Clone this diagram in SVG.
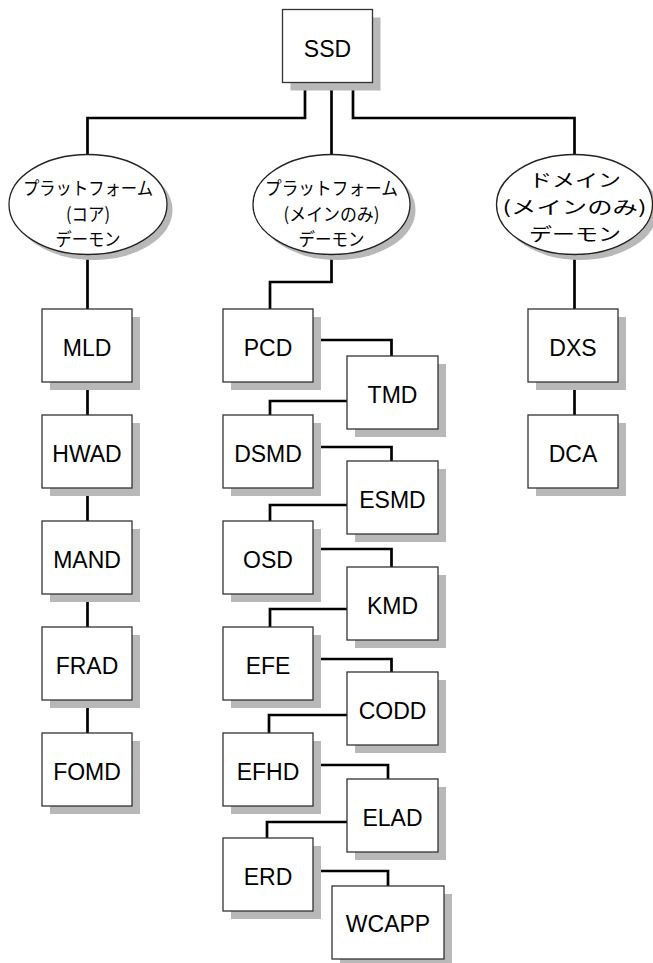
<svg xmlns="http://www.w3.org/2000/svg" width="653" height="963" viewBox="0 0 653 963">
<style>
.sh{fill:#b8b8b8;stroke:none}
.bx{fill:#fff;stroke:#333;stroke-width:1.3}
.el{fill:#fff;stroke:#222;stroke-width:1.3}
.t{font-family:"Liberation Sans",Arial,sans-serif;font-size:23px;fill:#000;text-anchor:middle}
.j{font-family:"Noto Sans CJK JP","Noto Sans CJK SC",sans-serif;font-size:18px;fill:#000;text-anchor:middle}
.c{fill:none;stroke:#000;stroke-width:2.7}
</style>
<rect width="653" height="963" fill="#fff"/>
<g id="connectors">
<path class="c" d="M305,83 V118 H87.5 V155"/>
<path class="c" d="M331.5,83 V155"/>
<path class="c" d="M353,83 V118 H574.5 V155"/>
<path class="c" d="M87.5,255 V309 M87.5,382 V415 M87.5,488 V521 M87.5,594 V627 M87.5,700 V733"/>
<path class="c" d="M331.5,255 V282 H270 V309"/>
<path class="c" d="M313,340 H391.5 V356"/>
<path class="c" d="M347,401 H270 V415"/>
<path class="c" d="M313,447 H391.5 V461"/>
<path class="c" d="M347,505 H270 V521"/>
<path class="c" d="M313,549 H391.5 V567"/>
<path class="c" d="M347,609 H270 V627"/>
<path class="c" d="M313,659 H391.5 V672"/>
<path class="c" d="M347,715 H269 V733"/>
<path class="c" d="M313,765 H388 V779"/>
<path class="c" d="M347,822 H267 V838"/>
<path class="c" d="M313,871 H388 V886"/>
<path class="c" d="M574.5,255 V309 M574.5,382 V415"/>
</g>
<g id="SSD"><rect class="sh" x="290.5" y="17.5" width="90" height="73"/><rect class="bx" x="282.5" y="9.5" width="90" height="73"/><text class="t" x="327.5" y="56.5">SSD</text></g>
<g id="core">
<ellipse class="sh" cx="93.5" cy="210" rx="79" ry="50"/>
<ellipse class="el" cx="88" cy="204.5" rx="79" ry="50"/>
<text class="j" x="88" y="195" textLength="130" lengthAdjust="spacingAndGlyphs">プラットフォーム</text>
<text class="j" x="88" y="221" textLength="44" lengthAdjust="spacingAndGlyphs">(コア)</text>
<text class="j" x="88" y="246" textLength="65" lengthAdjust="spacingAndGlyphs">デーモン</text>
</g>
<g id="mainonly">
<ellipse class="sh" cx="337" cy="210" rx="78.5" ry="50"/>
<ellipse class="el" cx="331.5" cy="204.5" rx="78.5" ry="50"/>
<text class="j" x="331.5" y="195" textLength="133" lengthAdjust="spacingAndGlyphs">プラットフォーム</text>
<text class="j" x="331.5" y="221" textLength="96" lengthAdjust="spacingAndGlyphs">(メインのみ)</text>
<text class="j" x="331.5" y="246" textLength="66" lengthAdjust="spacingAndGlyphs">デーモン</text>
</g>
<g id="domain">
<ellipse class="sh" cx="580" cy="210" rx="78" ry="50"/>
<ellipse class="el" cx="574.5" cy="204.5" rx="78" ry="50"/>
<text class="j" x="575" y="187" textLength="92" lengthAdjust="spacingAndGlyphs">ドメイン</text>
<text class="j" x="574.5" y="214" textLength="144" lengthAdjust="spacingAndGlyphs">(メインのみ)</text>
<text class="j" x="575" y="241" textLength="92" lengthAdjust="spacingAndGlyphs">デーモン</text>
</g>
<g id="MLD"><rect class="sh" x="50" y="317" width="90" height="73"/><rect class="bx" x="42" y="309" width="90" height="73"/><text class="t" x="87" y="356">MLD</text></g>
<g id="HWAD"><rect class="sh" x="50" y="423" width="90" height="73"/><rect class="bx" x="42" y="415" width="90" height="73"/><text class="t" x="87" y="462">HWAD</text></g>
<g id="MAND"><rect class="sh" x="50" y="529" width="90" height="73"/><rect class="bx" x="42" y="521" width="90" height="73"/><text class="t" x="87" y="568">MAND</text></g>
<g id="FRAD"><rect class="sh" x="50" y="635" width="90" height="73"/><rect class="bx" x="42" y="627" width="90" height="73"/><text class="t" x="87" y="674">FRAD</text></g>
<g id="FOMD"><rect class="sh" x="50" y="741" width="90" height="73"/><rect class="bx" x="42" y="733" width="90" height="73"/><text class="t" x="87" y="780">FOMD</text></g>
<g id="PCD"><rect class="sh" x="231" y="317" width="90" height="73"/><rect class="bx" x="223" y="309" width="90" height="73"/><text class="t" x="268" y="356">PCD</text></g>
<g id="DSMD"><rect class="sh" x="231" y="423" width="90" height="73"/><rect class="bx" x="223" y="415" width="90" height="73"/><text class="t" x="268" y="462">DSMD</text></g>
<g id="OSD"><rect class="sh" x="231" y="529" width="90" height="73"/><rect class="bx" x="223" y="521" width="90" height="73"/><text class="t" x="268" y="568">OSD</text></g>
<g id="EFE"><rect class="sh" x="231" y="635" width="90" height="73"/><rect class="bx" x="223" y="627" width="90" height="73"/><text class="t" x="268" y="674">EFE</text></g>
<g id="EFHD"><rect class="sh" x="231" y="741" width="90" height="73"/><rect class="bx" x="223" y="733" width="90" height="73"/><text class="t" x="268" y="780">EFHD</text></g>
<g id="ERD"><rect class="sh" x="231" y="846" width="90" height="73"/><rect class="bx" x="223" y="838" width="90" height="73"/><text class="t" x="268" y="885">ERD</text></g>
<g id="TMD"><rect class="sh" x="355" y="364" width="91" height="73"/><rect class="bx" x="347" y="356" width="91" height="73"/><text class="t" x="392.5" y="403">TMD</text></g>
<g id="ESMD"><rect class="sh" x="355" y="469" width="91" height="73"/><rect class="bx" x="347" y="461" width="91" height="73"/><text class="t" x="392.5" y="508">ESMD</text></g>
<g id="KMD"><rect class="sh" x="355" y="575" width="91" height="73"/><rect class="bx" x="347" y="567" width="91" height="73"/><text class="t" x="392.5" y="614">KMD</text></g>
<g id="CODD"><rect class="sh" x="355" y="680" width="91" height="73"/><rect class="bx" x="347" y="672" width="91" height="73"/><text class="t" x="392.5" y="719">CODD</text></g>
<g id="ELAD"><rect class="sh" x="355" y="787" width="91" height="73"/><rect class="bx" x="347" y="779" width="91" height="73"/><text class="t" x="392.5" y="826">ELAD</text></g>
<g id="WCAPP"><rect class="sh" x="340" y="894" width="112" height="73"/><rect class="bx" x="332" y="886" width="112" height="73"/><text class="t" x="388" y="932">WCAPP</text></g>
<g id="DXS"><rect class="sh" x="536" y="317" width="90" height="73"/><rect class="bx" x="528" y="309" width="90" height="73"/><text class="t" x="573" y="356">DXS</text></g>
<g id="DCA"><rect class="sh" x="536" y="423" width="90" height="73"/><rect class="bx" x="528" y="415" width="90" height="73"/><text class="t" x="573" y="462">DCA</text></g>
</svg>
